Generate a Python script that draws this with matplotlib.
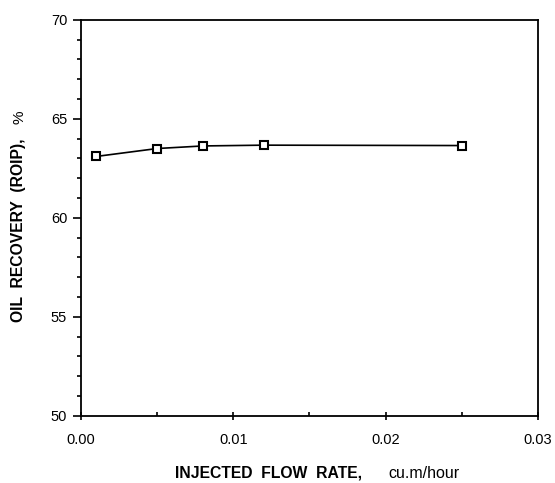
import matplotlib
matplotlib.use('Agg')
import matplotlib.pyplot as plt
from matplotlib.ticker import MultipleLocator

# injected flow rate (cu.m/hour) vs oil recovery (% ROIP)
flow_rate = [0.001, 0.005, 0.008, 0.012, 0.025]
recovery = [63.1, 63.5, 63.63, 63.67, 63.65]

plt.rcParams['font.family'] = ['Liberation Sans', 'DejaVu Sans']

fig = plt.figure(figsize=(5.55, 4.83), dpi=100)
ax = fig.add_axes([0.146, 0.139, 0.823, 0.820])

ax.plot(flow_rate, recovery, color='black', lw=1.2, marker='s', ms=6,
        mfc='white', mec='black', mew=1.5)

ax.set_xlim(0, 0.03)
ax.set_ylim(50, 70)
ax.xaxis.set_major_locator(MultipleLocator(0.01))
ax.xaxis.set_minor_locator(MultipleLocator(0.005))
ax.yaxis.set_major_locator(MultipleLocator(5))
ax.yaxis.set_minor_locator(MultipleLocator(1))
ax.xaxis.set_major_formatter(plt.FormatStrFormatter('%.2f'))

ax.tick_params(axis='y', which='major', direction='out', length=6, width=1.2, labelsize=10.5, pad=4)
ax.tick_params(axis='y', which='minor', direction='out', length=3, width=1.2)
ax.tick_params(axis='x', which='major', direction='inout', length=6, width=1.2, labelsize=10.5, pad=9)
ax.tick_params(axis='x', which='minor', direction='in', length=3, width=1.2)
for s in ax.spines.values():
    s.set_linewidth(1.3)

# axis titles: bold caption and plain units
fig.text(175 / 555, 1 - 473 / 483, 'INJECTED  FLOW  RATE,', fontsize=11.3, fontweight='bold',
         ha='left', va='center')
fig.text(388 / 555, 1 - 473 / 483, 'cu.m/hour', fontsize=11.5, ha='left', va='center')
fig.text(19 / 555, 1 - 322 / 483, 'OIL  RECOVERY  (ROIP),', fontsize=11.3, fontweight='bold',
         rotation=90, ha='center', va='bottom')
fig.text(19 / 555, 1 - 110 / 483, '%', fontsize=11, rotation=90, ha='center', va='top')

fig.savefig('out.png', dpi=100)
plt.close()
